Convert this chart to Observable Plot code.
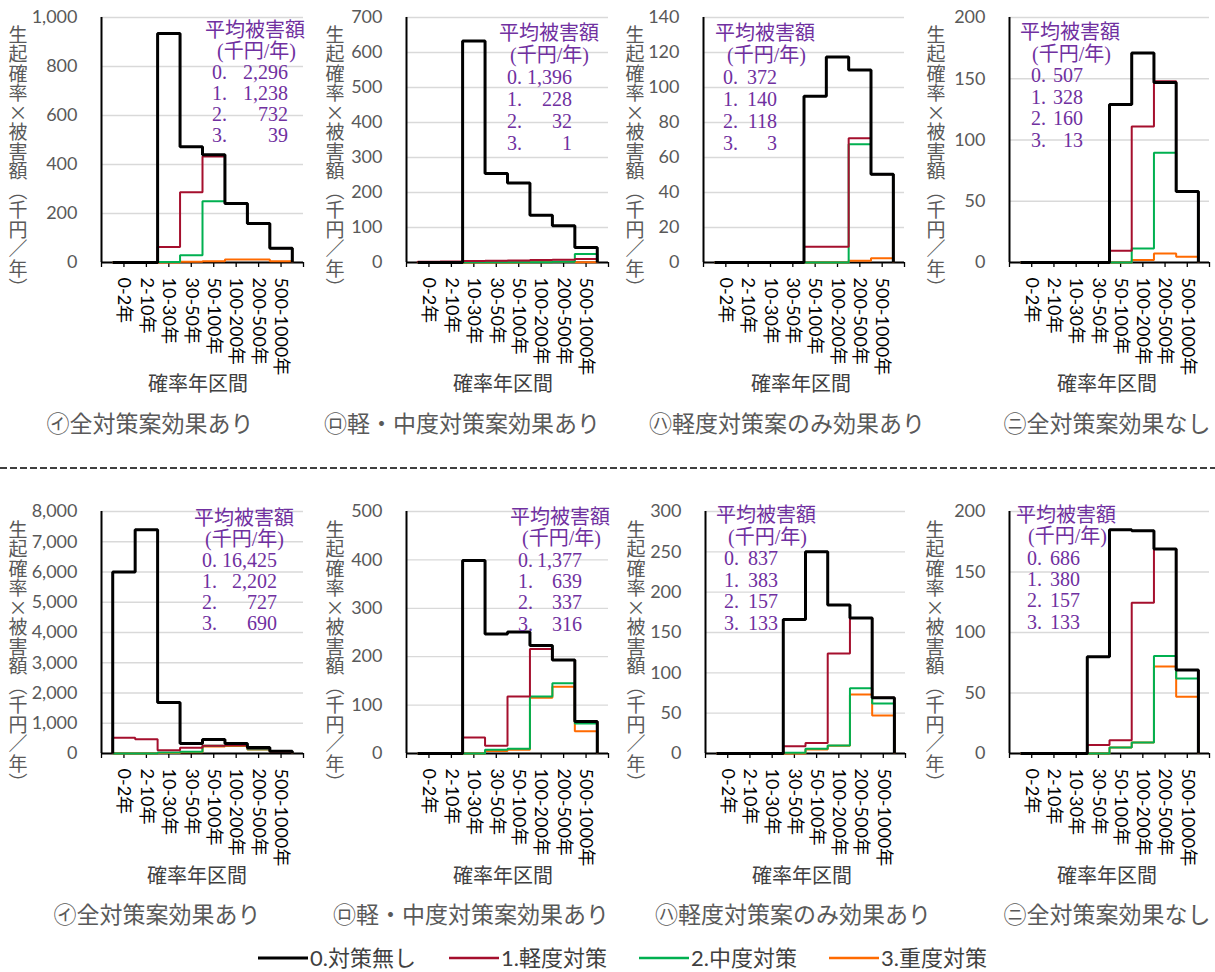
<!DOCTYPE html>
<html><head><meta charset="utf-8">
<script src="https://cdn.jsdelivr.net/npm/d3@7"></script>
<script src="https://cdn.jsdelivr.net/npm/@observablehq/plot@0.6"></script>
<style>
body{margin:0;background:#fff;}
#root{position:relative;width:1215px;height:972px;overflow:hidden;font-family:"Noto Sans CJK JP",sans-serif;background:#fff;}
.abs{position:absolute;white-space:nowrap;}
.abs > svg{display:block;}
.ytitle{writing-mode:vertical-rl;color:#595959;font-size:19px;line-height:19px;letter-spacing:0.5px;font-family:"Noto Sans CJK JP",sans-serif;}
.xlabel{color:#404040;font-size:20px;line-height:24px;transform:translateX(-50%);}
.sub{color:#595959;font-size:23px;line-height:26px;transform:translateX(-50%);}
.ann{color:#7030A0;font-family:"Liberation Serif","Noto Sans CJK JP",serif;font-size:20px;line-height:22px;}
.row{display:flex;justify-content:space-between;}
.leg{font-family:Lato,"Noto Sans CJK JP",sans-serif;font-size:22px;line-height:26px;color:#404040;}
</style></head><body><div id="root"></div>
<script>
const categories = ["0-2年","2-10年","10-30年","30-50年","50-100年","100-200年","200-500年","500-1000年"];
const panelTitles = ["㋑全対策案効果あり","㋺軽・中度対策案効果あり","㋩軽度対策案のみ効果あり","㋥全対策案効果なし",
                     "㋑全対策案効果あり","㋺軽・中度対策案効果あり","㋩軽度対策案のみ効果あり","㋥全対策案効果なし"];
const seriesNames = ["0.対策無し","1.軽度対策","2.中度対策","3.重度対策"];
const seriesColors = ["#000000","#A50F2D","#00B050","#FF6A00"];

// 生起確率×被害額 (千円/年), one row per panel
const noMeasure = [
  [0,0,935,472,440,241,159,58],
  [0,0,633,254,227,135,105,43],
  [0,0,0,0,95,117.5,110,50.5],
  [0,0,0,0,129,171,147,58],
  [6000,7400,1690,330,465,330,200,77],
  [0,0,399,247,251,223,193,66],
  [0,0,0,166,250,184,168,69],
  [0,0,0,80,185,184,169,69]
];
const lightMeasure = [
  [0,0,63,287,433,241,159,58],
  [2,3,4,5,6,7,8,10],
  [0,0,0,0,9,9,71,50.5],
  [0,0,0,0,9.5,111,148,58],
  [520,475,110,188,254,276,166,55],
  [0,0,33,16,118,216,193,66],
  [0,0,0,9,13,124,168,69],
  [0,0,0,7,11,124.5,169,69]
];
const mediumMeasure = [
  [0,0,2,30,250,241,159,58],
  [0,0,1,1,1,1,2,24],
  [0,0,0,0,0,0,67.6,50.5],
  [0,0,0,0,0,11.4,89.6,58],
  [0,0,33,55,254,276,143,55],
  [0,0,0,8,10,118,145,62],
  [0,0,0,1,6,10,81,62],
  [0,0,0,0,5,9,80.5,62]
];
const heavyMeasure = [
  [0,0,0,3,5,12,12,5],
  [0,0,0,0,0,1,2,1],
  [0,0,0,0,0,0,1,2.5],
  [0,0,0,0,0,2,7.3,4.6],
  [0,0,20,40,230,250,130,50],
  [0,0,0,5,8,115,138,46],
  [0,0,0,0,5,9.5,73,47],
  [0,0,0,0,5,9,72,47]
];
// 平均被害額 (千円/年)
const meanNone   = [2296,1396,372,507,16425,1377,837,686];
const meanLight  = [1238,228,140,328,2202,639,383,380];
const meanMedium = [732,32,118,160,727,337,157,157];
const meanHeavy  = [39,1,3,13,690,316,133,133];
// y axis ranges
const yMax  = [1000,700,140,200,8000,500,300,200];
const yStep = [200,100,20,50,1000,100,50,50];

// layout (pixels)
const colLeft = [0,305,610,910];
const rowTop = [0,495];
const L = [
  {ml:101, mr:2,  mt:17, base:262, yt:18, xl:198, sx:150, tl:205, y0:30, pl:217, nl:212, nr:288, dy:21},
  {ml:101, mr:2,  mt:17, base:262, yt:30, xl:198, sx:157, tl:194, y0:33, pl:205, nl:202, nr:267, dy:22},
  {ml:93,  mr:11, mt:17, base:262, yt:25, xl:191, sx:177, tl:105, y0:33, pl:117, nl:113, nr:167, dy:22},
  {ml:99,  mr:6,  mt:17, base:262, yt:26, xl:197, sx:197, tl:110, y0:32, pl:122, nl:121, nr:173, dy:21.5},
  {ml:101, mr:2,  mt:16, base:258, yt:18, xl:197, sx:157, tl:194, y0:23, pl:205, nl:202, nr:277, dy:21},
  {ml:101, mr:2,  mt:16, base:258, yt:30, xl:198, sx:166, tl:205, y0:22, pl:217, nl:213, nr:277, dy:21.3},
  {ml:95,  mr:10, mt:16, base:258, yt:26, xl:192, sx:183, tl:106, y0:20, pl:118, nl:114, nr:168, dy:21.5},
  {ml:99,  mr:6,  mt:16, base:258, yt:25, xl:197, sx:197, tl:106, y0:20, pl:118, nl:117, nr:170, dy:21.3}
];
const svgH = 380;
const root = document.getElementById("root");
const fmt = d3.format(",");

function stepData(vals) {
  const pts = [{x: 0.5, y: 0}];
  vals.forEach((v, i) => pts.push({x: i + 0.5, y: v}));
  pts.push({x: vals.length + 0.5, y: 0});
  return pts;
}
function addDiv(cls, left, top, html) {
  const d = document.createElement("div");
  d.className = "abs " + cls;
  d.style.left = left + "px";
  d.style.top = top + "px";
  d.innerHTML = html;
  root.appendChild(d);
  return d;
}

for (let p = 0; p < 8; p++) {
  const lay = L[p];
  const left = colLeft[p % 4], top = rowTop[Math.floor(p / 4)];
  const yticks = d3.range(0, yMax[p] + yStep[p] / 2, yStep[p]);
  const series = [heavyMeasure[p], mediumMeasure[p], lightMeasure[p], noMeasure[p]];
  const colors = [seriesColors[3], seriesColors[2], seriesColors[1], seriesColors[0]];
  const widths = [2, 2, 2, 3];
  const chart = Plot.plot({
    width: 305, height: svgH,
    marginLeft: lay.ml, marginRight: lay.mr, marginTop: lay.mt, marginBottom: svgH - lay.base,
    style: {fontFamily: "Lato, 'Noto Sans CJK JP', sans-serif", fontSize: "18px", background: "transparent", overflow: "visible"},
    x: {type: "linear", domain: [0, categories.length + 1], label: null},
    y: {domain: [0, yMax[p]], label: null},
    marks: [
      Plot.gridY(yticks, {stroke: "#d9d9d9", strokeOpacity: 1, strokeWidth: 1.3}),
      Plot.axisY(yticks, {tickSize: 0, tickPadding: 24, tickFormat: fmt, fill: "#595959", fontSize: 18, label: null}),
      Plot.axisX(d3.range(categories.length + 2), {tickSize: 5, tickPadding: 10, tickRotate: 90,
        tickFormat: d => categories[d - 1] ?? "", stroke: "#000", strokeWidth: 1.3, fill: "#000", fontSize: 18, label: null}),
      Plot.ruleY([0], {stroke: "#000", strokeWidth: 2}),
      Plot.ruleX([0], {stroke: "#000", strokeWidth: 2}),
      ...series.map((s, k) => Plot.line(stepData(s), {x: "x", y: "y", curve: "step-after",
        stroke: colors[k], strokeWidth: widths[k], strokeLinejoin: "miter", strokeLinecap: "butt"}))
    ]
  });
  const holder = document.createElement("div");
  holder.className = "abs";
  holder.style.left = left + "px";
  holder.style.top = top + "px";
  holder.appendChild(chart);
  root.appendChild(holder);

  // y title (vertical)
  addDiv("ytitle", left + lay.yt - 9.5, top + 25, "生起確率×被害額（千円／年）");
  // x label
  const rowLabelY = top === 0 ? 371 : 863;
  addDiv("xlabel", left + lay.xl, rowLabelY, "確率年区間");
  // subtitle
  const subY = top === 0 ? 409 : 900;
  addDiv("sub", left + lay.sx, subY, panelTitles[p]);
  // annotation
  const a0 = top + lay.y0 - 11;
  addDiv("ann", left + lay.tl, a0, "平均被害額");
  addDiv("ann", left + lay.pl, a0 + lay.dy, "(千円/年)");
  const means = [meanNone[p], meanLight[p], meanMedium[p], meanHeavy[p]];
  means.forEach((m, k) => {
    const d = addDiv("ann row", left + lay.nl, a0 + lay.dy * (k + 2), `<span>${k}.</span><span>${fmt(m)}</span>`);
    d.style.width = (lay.nr - lay.nl) + "px";
  });
}

// dashed separator
addDiv("", 0, 466, `<svg width="1215" height="4"><line x1="0" x2="1215" y1="2" y2="2" stroke="#000" stroke-width="1.6" stroke-dasharray="7 3"/></svg>`);

// legend
const legX = [258, 449, 639, 829];
seriesNames.forEach((name, k) => {
  addDiv("", legX[k], 955, `<svg width="50" height="6"><line x1="0" x2="50" y1="3" y2="3" stroke="${seriesColors[k]}" stroke-width="${k === 0 ? 3 : 2.5}"/></svg>`);
  addDiv("leg", legX[k] + 52, 945, name);
});
</script></body></html>
